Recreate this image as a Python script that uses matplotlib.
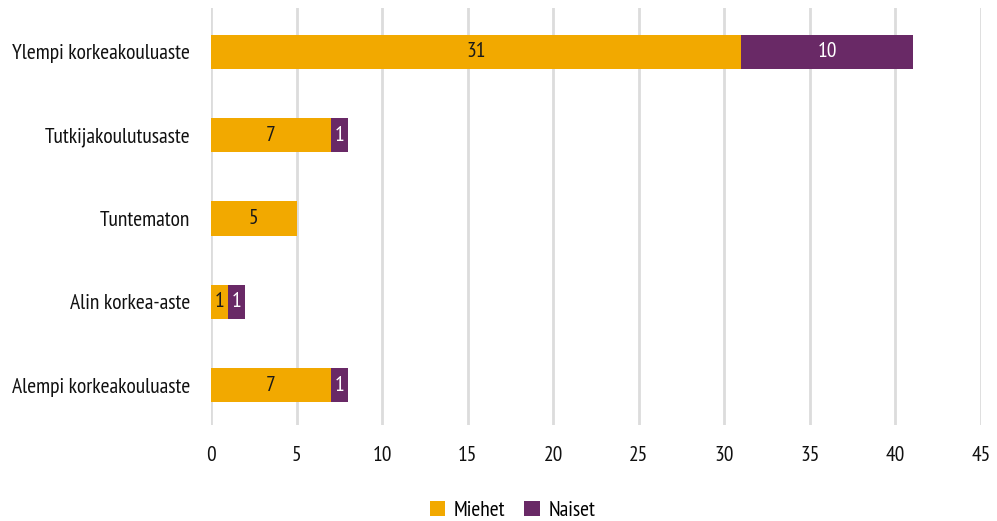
import numpy as np
import matplotlib.pyplot as plt

categories = ["Ylempi korkeakouluaste", "Tutkijakoulutusaste", "Tuntematon",
              "Alin korkea-aste", "Alempi korkeakouluaste"]
miehet = [31, 7, 5, 1, 7]
naiset = [10, 1, 0, 1, 1]
xticks = [0, 5, 10, 15, 20, 25, 30, 35, 40, 45]

plt.rcParams["font.family"] = ["PT Sans Narrow", "Roboto Condensed", "DejaVu Sans"]
plt.rcParams["font.size"] = 15.5

orange = "#F2A900"
purple = "#692966"

fig = plt.figure(figsize=(9.97, 5.21), dpi=100)
ax = fig.add_axes([0.2116, 0.184, 0.7724, 0.801])

y = np.arange(len(categories))
h = 0.41
ax.barh(y, miehet, height=h, color=orange, label="Miehet", zorder=3)
ax.barh(y, naiset, height=h, left=miehet, color=purple, label="Naiset", zorder=3)

# value labels inside the segments
for i in range(len(categories)):
    if miehet[i] > 0:
        ax.text(miehet[i] / 2, y[i], str(miehet[i]), ha="center", va="center",
                color="#1a1a1a", zorder=4)
    if naiset[i] > 0:
        ax.text(miehet[i] + naiset[i] / 2, y[i], str(naiset[i]), ha="center",
                va="center", color="white", zorder=4)

ax.set_xlim(0, 45)
ax.set_ylim(4.48, -0.53)
ax.set_xticks(xticks)
ax.set_yticks(y)
ax.set_yticklabels(categories)
ax.tick_params(length=0, colors="#111111")
ax.tick_params(axis="x", pad=15)
ax.tick_params(axis="y", pad=15)
ax.xaxis.grid(True, color="#dcdcdc", linewidth=2, zorder=0)
for s in ax.spines.values():
    s.set_visible(False)

fig.legend(loc="lower center", bbox_to_anchor=(0.514, -0.035), ncol=2, frameon=False,
           handlelength=0.7, handleheight=0.7, handletextpad=0.4, columnspacing=0.9)

fig.savefig("out.png", dpi=100)
